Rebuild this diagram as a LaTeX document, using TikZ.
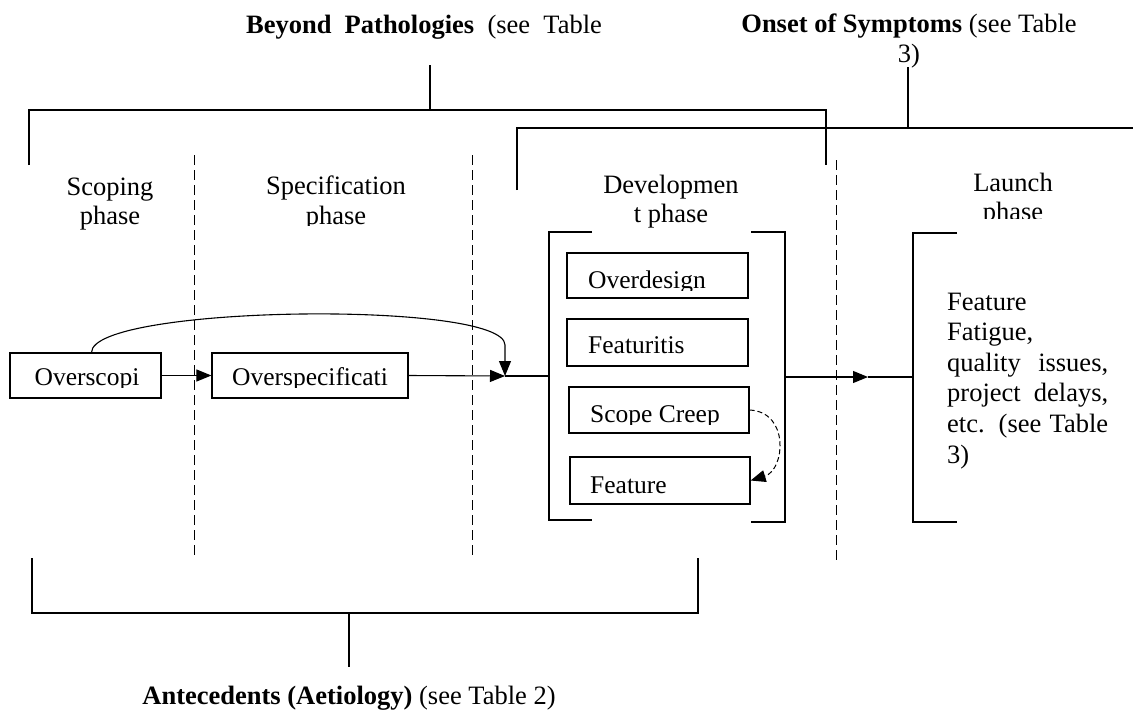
\documentclass[tikz,border=0pt]{standalone}
\usepackage{fontspec}
\setmainfont{Liberation Serif}
\usetikzlibrary{arrows.meta}
\tikzset{
  txt/.style={font=\fontsize{26.5}{29.5}\selectfont, inner sep=0pt, align=center, anchor=base},
  btxt/.style={font=\fontsize{25.5}{29}\selectfont, inner sep=0pt, anchor=base west},
  phbox/.style={draw, line width=1.2pt, inner sep=0pt},
  brk/.style={line width=1.2pt},
  dsh/.style={line width=1pt, dash pattern=on 10pt off 5pt},
  arr/.style={line width=1.1pt, -{Triangle[length=15pt,width=12pt]}},
  darr/.style={line width=1pt, dash pattern=on 5pt off 3pt, -{Triangle[length=15pt,width=12pt]}}
}
\begin{document}
\begin{tikzpicture}[x=1pt,y=-1pt]
\useasboundingbox (0,0) rectangle (1133,713);
% titles (base anchor = baseline of the last line)
\node[txt] (bp) at (424,33) {\textbf{Beyond\ \ Pathologies}\ \ (see\ \ Table};
\node[txt] (on) at (909,62) {\textbf{Onset of Symptoms} (see Table\\3)};
\node[txt] (an) at (349,704) {\textbf{Antecedents (Aetiology)} (see Table 2)};
% phase labels
\node[txt] (p1) at (110,224.5) {Scoping\\phase};
\begin{scope}
  \clip (194,160) rectangle (472,225.5);
  \node[txt] (p2) at (336,224) {Specification\\phase};
\end{scope}
\node[txt] (p3) at (671,222.5) {Developmen\\t phase};
\begin{scope}
  \clip (840,160) rectangle (1133,218);
  \node[txt] (p4) at (1013,220.5) {Launch\\phase};
\end{scope}
% bracket coordinates
\coordinate (bpT) at (430,65);
\coordinate (bpJ) at (430,110);
\coordinate (bpL) at (29,165);
\coordinate (bpR) at (826,165);
\coordinate (onT) at (908,67);
\coordinate (onJ) at (908,128);
\coordinate (onL) at (517,190);
\coordinate (onR) at (1133,128);
\coordinate (anT) at (349,667);
\coordinate (anJ) at (349,613);
\coordinate (anL) at (32,558);
\coordinate (anR) at (698,558);
\draw[brk] (bpL) |- (bpR |- bpJ) -- (bpR);
\draw[brk] (bpT) -- (bpJ);
\draw[brk] (onL) |- (onR);
\draw[brk] (onT) -- (onJ);
\draw[brk] (anL) |- (anR |- anJ) -- (anR);
\draw[brk] (anJ) -- (anT);
% dashed phase dividers
\draw[dsh] (194,155) -- (194,558);
\draw[dsh] (472,155) -- (472,558);
\draw[dsh] (836,160) -- (836,560);
% development bracket
\coordinate (dL) at (549,376);
\coordinate (dR) at (785,377);
\draw[brk] (592,232) -- (549,232) -- (549,520) -- (592,520);
\draw[brk] (751,232) -- (785,232) -- (785,522) -- (751,522);
% launch bracket
\coordinate (lL) at (913,377);
\draw[brk] (957,233) -- (913,233) -- (913,522) -- (957,522);
% boxes
\node[phbox, minimum width=151pt, minimum height=45pt] (os) at (85.5,375.5) {};
\node[phbox, minimum width=196pt, minimum height=45pt] (osp) at (310,375.5) {};
\node[phbox, minimum width=181pt, minimum height=45pt] (od) at (657.5,275.5) {};
\node[phbox, minimum width=181pt, minimum height=47pt] (ft) at (657.5,342.5) {};
\node[phbox, minimum width=180pt, minimum height=46pt] (sc) at (659,410) {};
\node[phbox, minimum width=180pt, minimum height=47pt] (fe) at (660,480.5) {};
% box texts (clipped like the original text boxes)
\begin{scope}
  \clip (10,353) rectangle (161,387.5);
  \node[btxt, anchor=base] (tos) at (87,385) {Overscopi};
\end{scope}
\begin{scope}
  \clip (212,353) rectangle (408,387.5);
  \node[btxt, anchor=base] (tosp) at (310,385) {Overspecificati};
\end{scope}
\begin{scope}
  \clip (567,253) rectangle (748,290);
  \node[btxt] (tod) at (588,288) {Overdesign};
\end{scope}
\node[btxt] (tft) at (588,353) {Featuritis};
\begin{scope}
  \clip (569,387) rectangle (749,424);
  \node[btxt] (tsc) at (590,422) {Scope Creep};
\end{scope}
\node[btxt] (tfe) at (590,493) {Feature};
% effects text
\node[font=\fontsize{26.5}{30.6}\selectfont, inner sep=0pt, align=left, anchor=base west] (ef) at (947,463)
  {Feature\\Fatigue,\\\makebox[161pt][s]{quality issues,}\\\makebox[161pt][s]{project delays,}\\\makebox[161pt][s]{etc. (see Table}\\3)};
% connectors
\coordinate (J) at (505,376);
\coordinate (K) at (868,377);
\draw[arr] (os.east) -- (osp.west);
\draw[arr] (osp.east) -- (J);
\draw[brk] (J) -- (dL);
\draw[arr] ([xshift=6pt]os.north) .. controls (92,305) and (505,300) .. (505,345) -- (J);
\draw[arr] (dR) -- (K);
\draw[brk] (K) -- (lL);
\draw[darr] (sc.east) .. controls (790,412) and (785,470) .. (fe.east);
\end{tikzpicture}
\end{document}
